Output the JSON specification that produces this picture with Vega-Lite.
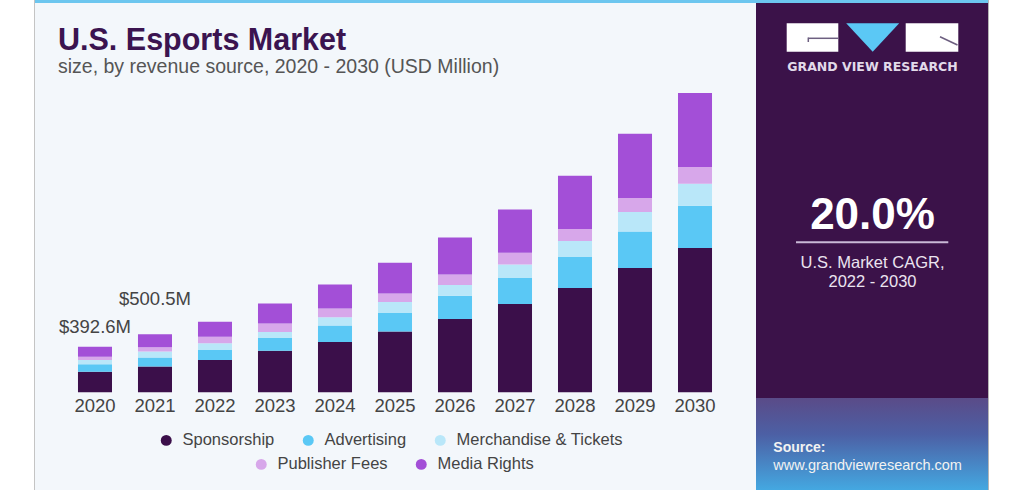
{
  "$schema": "https://vega.github.io/schema/vega-lite/v6.json",
  "background": "#ffffff",
  "padding": {"left": 34, "right": 35, "top": 0, "bottom": 0},
  "spacing": 0,
  "config": {"view": {"stroke": null}, "font": "Liberation Sans"},
  "hconcat": [
    {
      "width": 722,
      "height": 490,
      "view": {"fill": "#f3f7fb", "stroke": null},
      "title": {
        "text": "U.S. Esports Market",
        "subtitle": "size, by revenue source, 2020 - 2030 (USD Million)",
        "anchor": "start",
        "frame": "group",
        "dx": 24,
        "offset": -76,
        "font": "Liberation Sans",
        "fontSize": 30.5,
        "fontWeight": "bold",
        "color": "#3b1450",
        "subtitleFont": "Liberation Sans",
        "subtitleFontSize": 19.5,
        "subtitleColor": "#555555",
        "subtitlePadding": 1
      },
      "data": {
        "values": [
          {"year": "2020", "source": "Sponsorship", "i": 1, "value": 177.4},
          {"year": "2020", "source": "Advertising", "i": 2, "value": 63.7},
          {"year": "2020", "source": "Merchandise & Tickets", "i": 3, "value": 37.0},
          {"year": "2020", "source": "Publisher Fees", "i": 4, "value": 28.4},
          {"year": "2020", "source": "Media Rights", "i": 5, "value": 86.1},
          {"year": "2021", "source": "Sponsorship", "i": 1, "value": 220.9},
          {"year": "2021", "source": "Advertising", "i": 2, "value": 77.7},
          {"year": "2021", "source": "Merchandise & Tickets", "i": 3, "value": 51.8},
          {"year": "2021", "source": "Publisher Fees", "i": 4, "value": 38.0},
          {"year": "2021", "source": "Media Rights", "i": 5, "value": 112.1},
          {"year": "2022", "source": "Sponsorship", "i": 1, "value": 278},
          {"year": "2022", "source": "Advertising", "i": 2, "value": 86},
          {"year": "2022", "source": "Merchandise & Tickets", "i": 3, "value": 58},
          {"year": "2022", "source": "Publisher Fees", "i": 4, "value": 57},
          {"year": "2022", "source": "Media Rights", "i": 5, "value": 129},
          {"year": "2023", "source": "Sponsorship", "i": 1, "value": 358},
          {"year": "2023", "source": "Advertising", "i": 2, "value": 109},
          {"year": "2023", "source": "Merchandise & Tickets", "i": 3, "value": 52},
          {"year": "2023", "source": "Publisher Fees", "i": 4, "value": 73},
          {"year": "2023", "source": "Media Rights", "i": 5, "value": 172},
          {"year": "2024", "source": "Sponsorship", "i": 1, "value": 433},
          {"year": "2024", "source": "Advertising", "i": 2, "value": 141},
          {"year": "2024", "source": "Merchandise & Tickets", "i": 3, "value": 72},
          {"year": "2024", "source": "Publisher Fees", "i": 4, "value": 75},
          {"year": "2024", "source": "Media Rights", "i": 5, "value": 207},
          {"year": "2025", "source": "Sponsorship", "i": 1, "value": 524},
          {"year": "2025", "source": "Advertising", "i": 2, "value": 159},
          {"year": "2025", "source": "Merchandise & Tickets", "i": 3, "value": 95},
          {"year": "2025", "source": "Publisher Fees", "i": 4, "value": 72},
          {"year": "2025", "source": "Media Rights", "i": 5, "value": 267},
          {"year": "2026", "source": "Sponsorship", "i": 1, "value": 631},
          {"year": "2026", "source": "Advertising", "i": 2, "value": 201},
          {"year": "2026", "source": "Merchandise & Tickets", "i": 3, "value": 92},
          {"year": "2026", "source": "Publisher Fees", "i": 4, "value": 91},
          {"year": "2026", "source": "Media Rights", "i": 5, "value": 319},
          {"year": "2027", "source": "Sponsorship", "i": 1, "value": 760},
          {"year": "2027", "source": "Advertising", "i": 2, "value": 224},
          {"year": "2027", "source": "Merchandise & Tickets", "i": 3, "value": 116},
          {"year": "2027", "source": "Publisher Fees", "i": 4, "value": 103},
          {"year": "2027", "source": "Media Rights", "i": 5, "value": 373},
          {"year": "2028", "source": "Sponsorship", "i": 1, "value": 898},
          {"year": "2028", "source": "Advertising", "i": 2, "value": 267},
          {"year": "2028", "source": "Merchandise & Tickets", "i": 3, "value": 138},
          {"year": "2028", "source": "Publisher Fees", "i": 4, "value": 103},
          {"year": "2028", "source": "Media Rights", "i": 5, "value": 459},
          {"year": "2029", "source": "Sponsorship", "i": 1, "value": 1071},
          {"year": "2029", "source": "Advertising", "i": 2, "value": 315},
          {"year": "2029", "source": "Merchandise & Tickets", "i": 3, "value": 167},
          {"year": "2029", "source": "Publisher Fees", "i": 4, "value": 121},
          {"year": "2029", "source": "Media Rights", "i": 5, "value": 554},
          {"year": "2030", "source": "Sponsorship", "i": 1, "value": 1243},
          {"year": "2030", "source": "Advertising", "i": 2, "value": 365},
          {"year": "2030", "source": "Merchandise & Tickets", "i": 3, "value": 190},
          {"year": "2030", "source": "Publisher Fees", "i": 4, "value": 144},
          {"year": "2030", "source": "Media Rights", "i": 5, "value": 638}
        ]
      },
      "encoding": {
        "x": {
          "field": "year",
          "type": "ordinal",
          "scale": {"paddingInner": 0.433, "paddingOuter": 0.733},
          "axis": {
            "orient": "bottom",
            "offset": -94,
            "title": null,
            "labelAngle": 0,
            "labelPadding": 0,
            "ticks": false,
            "tickSize": 0,
            "domain": false,
            "grid": false,
            "labelFont": "Liberation Sans",
            "labelFontSize": 18.5,
            "labelColor": "#444444"
          }
        }
      },
      "layer": [
        {
          "data": {"values": [{}]},
          "mark": {"type": "rect", "fill": "#6cc6ef"},
          "encoding": {"x": {"value": 0}, "x2": {"value": 722}, "y": {"value": 0}, "y2": {"value": 3}}
        },
        {
          "data": {"values": [{}]},
          "mark": {"type": "rect", "fill": "#c4c4c4"},
          "encoding": {"x": {"value": 0}, "x2": {"value": 1}, "y": {"value": 0}, "y2": {"value": 490}}
        },
        {
          "mark": {"type": "bar"},
          "encoding": {
            "y": {
              "field": "value",
              "type": "quantitative",
              "stack": "zero",
              "scale": {"domain": [-843, 3381], "nice": false, "zero": false},
              "axis": null
            },
            "color": {
              "field": "source",
              "type": "nominal",
              "scale": {
                "domain": ["Sponsorship", "Advertising", "Merchandise & Tickets", "Publisher Fees", "Media Rights"],
                "range": ["#3b0f4a", "#5ac8f5", "#b9e7f9", "#d7a7ea", "#a34fd7"]
              },
              "legend": {
                "values": ["Sponsorship", "Advertising", "Merchandise & Tickets"],
                "orient": "none",
                "legendX": 124,
                "legendY": 432,
                "direction": "horizontal",
                "title": null,
                "padding": 0,
                "symbolType": "circle",
                "symbolSize": 120,
                "symbolStrokeWidth": 0,
                "labelFont": "Liberation Sans",
                "labelFontSize": 16.5,
                "labelColor": "#444444",
                "labelOffset": 8,
                "labelLimit": 0,
                "columnPadding": 25
              }
            },
            "order": {"field": "i", "type": "quantitative"}
          }
        },
        {
          "transform": [{"filter": {"field": "source", "oneOf": ["Publisher Fees", "Media Rights"]}}],
          "mark": {"type": "point", "filled": true, "opacity": 0},
          "encoding": {
            "y": {"field": "value", "type": "quantitative"},
            "fill": {
              "field": "source",
              "type": "nominal",
              "scale": {
                "domain": ["Publisher Fees", "Media Rights"],
                "range": ["#d7a7ea", "#a34fd7"]
              },
              "legend": {
                "orient": "none",
                "legendX": 219,
                "legendY": 456,
                "direction": "horizontal",
                "title": null,
                "padding": 0,
                "symbolType": "circle",
                "symbolSize": 120,
                "symbolOpacity": 1,
                "symbolStrokeWidth": 0,
                "labelFont": "Liberation Sans",
                "labelFontSize": 16.5,
                "labelColor": "#444444",
                "labelOffset": 8,
                "labelLimit": 0,
                "columnPadding": 25
              }
            }
          }
        },
        {
          "data": {"values": [{"year": "2020", "total": 392.6, "label": "$392.6M"}]},
          "mark": {"type": "text", "dy": -20, "baseline": "middle", "font": "Liberation Sans", "fontSize": 18.5, "fill": "#444444"},
          "encoding": {
            "y": {"field": "total", "type": "quantitative"},
            "text": {"field": "label"}
          }
        },
        {
          "data": {"values": [{"year": "2021", "total": 500.5, "label": "$500.5M"}]},
          "mark": {"type": "text", "dy": -35, "baseline": "middle", "font": "Liberation Sans", "fontSize": 18.5, "fill": "#444444"},
          "encoding": {
            "y": {"field": "total", "type": "quantitative"},
            "text": {"field": "label"}
          }
        }
      ]
    },
    {
      "width": 233,
      "height": 490,
      "view": {"fill": "#3b1249", "stroke": null},
      "data": {"values": [{}]},
      "layer": [
        {
          "mark": {
            "type": "rect",
            "fill": {
              "gradient": "linear",
              "x1": 0, "y1": 0, "x2": 0, "y2": 1,
              "stops": [
                {"offset": 0, "color": "#5a4b88"},
                {"offset": 0.4, "color": "#4c60a5"},
                {"offset": 1, "color": "#44a8e1"}
              ]
            }
          },
          "encoding": {"x": {"value": 0}, "x2": {"value": 233}, "y": {"value": 398}, "y2": {"value": 490}}
        },
        {
          "mark": {"type": "rect", "fill": "#6cc6ef"},
          "encoding": {"x": {"value": 0}, "x2": {"value": 233}, "y": {"value": 0}, "y2": {"value": 3}}
        },
        {
          "mark": {"type": "rect", "fill": "#b5b5b5"},
          "encoding": {"x": {"value": 232}, "x2": {"value": 233}, "y": {"value": 0}, "y2": {"value": 490}}
        },
        {
          "mark": {"type": "rect", "fill": "#ffffff"},
          "encoding": {"x": {"value": 30.7}, "x2": {"value": 82.3}, "y": {"value": 23.3}, "y2": {"value": 51.7}}
        },
        {
          "mark": {"type": "rect", "fill": "#ffffff"},
          "encoding": {"x": {"value": 149.7}, "x2": {"value": 202.3}, "y": {"value": 23.3}, "y2": {"value": 51.7}}
        },
        {
          "mark": {"type": "point", "shape": "M-1,-0.535L1,-0.535L0,0.535Z", "filled": true, "fill": "#5bc8f5", "opacity": 1, "size": 2809, "strokeWidth": 0},
          "encoding": {"x": {"value": 116.7}, "y": {"value": 37.5}}
        },
        {
          "mark": {"type": "rule", "stroke": "#6d5f80", "strokeWidth": 1.5},
          "encoding": {"x": {"value": 52.3}, "x2": {"value": 82.3}, "y": {"value": 38.3}, "y2": {"value": 38.3}}
        },
        {
          "mark": {"type": "rule", "stroke": "#6d5f80", "strokeWidth": 1.5},
          "encoding": {"x": {"value": 52.3}, "x2": {"value": 52.3}, "y": {"value": 37.5}, "y2": {"value": 42}}
        },
        {
          "mark": {"type": "rule", "stroke": "#6d5f80", "strokeWidth": 1.5},
          "encoding": {"x": {"value": 184}, "x2": {"value": 201.5}, "y": {"value": 36.7}, "y2": {"value": 45}}
        },
        {
          "data": {"values": [{"t": "GRAND VIEW RESEARCH"}]},
          "mark": {"type": "text", "align": "center", "baseline": "alphabetic", "font": "DejaVu Sans", "fontWeight": "bold", "fontSize": 12.5, "fill": "#e2dae9"},
          "encoding": {"y": {"value": 70.7}, "text": {"field": "t"}}
        },
        {
          "data": {"values": [{"t": "20.0%"}]},
          "mark": {"type": "text", "align": "center", "baseline": "alphabetic", "font": "Liberation Sans", "fontWeight": "bold", "fontSize": 44, "fill": "#ffffff"},
          "encoding": {"y": {"value": 229}, "text": {"field": "t"}}
        },
        {
          "mark": {"type": "rule", "stroke": "#c9b9d6", "strokeWidth": 2},
          "encoding": {"x": {"value": 40}, "x2": {"value": 192.3}, "y": {"value": 242.3}, "y2": {"value": 242.3}}
        },
        {
          "data": {"values": [{"t": "U.S. Market CAGR,"}]},
          "mark": {"type": "text", "align": "center", "baseline": "alphabetic", "font": "Liberation Sans", "fontSize": 16.5, "fill": "#ebe4f0"},
          "encoding": {"y": {"value": 268}, "text": {"field": "t"}}
        },
        {
          "data": {"values": [{"t": "2022 - 2030"}]},
          "mark": {"type": "text", "align": "center", "baseline": "alphabetic", "font": "Liberation Sans", "fontSize": 16.5, "fill": "#ebe4f0"},
          "encoding": {"y": {"value": 287}, "text": {"field": "t"}}
        },
        {
          "data": {"values": [{"t": "Source:"}]},
          "mark": {"type": "text", "align": "left", "baseline": "alphabetic", "font": "Liberation Sans", "fontWeight": "bold", "fontSize": 14, "fill": "#f2f2f2"},
          "encoding": {"x": {"value": 17.3}, "y": {"value": 452}, "text": {"field": "t"}}
        },
        {
          "data": {"values": [{"t": "www.grandviewresearch.com"}]},
          "mark": {"type": "text", "align": "left", "baseline": "alphabetic", "font": "Liberation Sans", "fontSize": 14.5, "fill": "#f2f2f2"},
          "encoding": {"x": {"value": 17.3}, "y": {"value": 470}, "text": {"field": "t"}}
        }
      ]
    }
  ]
}
